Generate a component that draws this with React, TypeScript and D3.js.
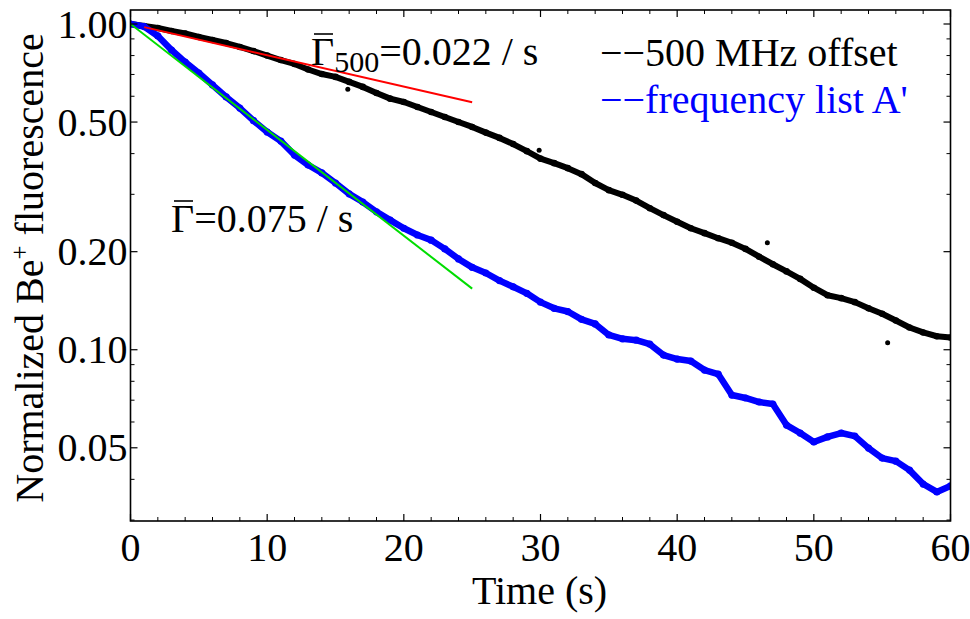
import React from "react";
import * as d3 from "d3";

// ---- data ----
const timeSeconds = [
  0, 1, 2, 3, 4, 5, 6, 7, 8, 9, 10, 11, 12, 13, 14, 15, 16, 17, 18, 19, 20,
  21, 22, 23, 24, 25, 26, 27, 28, 29, 30, 31, 32, 33, 34, 35, 36, 37, 38, 39, 40,
  41, 42, 43, 44, 45, 46, 47, 48, 49, 50, 51, 52, 53, 54, 55, 56, 57, 58, 59, 60,
];
const offset500MHz = [
  1.0, 0.986, 0.972, 0.952, 0.935, 0.912, 0.893, 0.874, 0.85, 0.826, 0.8,
  0.775, 0.754, 0.725, 0.702, 0.688, 0.664, 0.641, 0.614, 0.59, 0.576,
  0.556, 0.537, 0.518, 0.5, 0.483, 0.464, 0.447, 0.428, 0.407, 0.386,
  0.374, 0.361, 0.346, 0.325, 0.309, 0.299, 0.287, 0.272, 0.259, 0.247,
  0.236, 0.228, 0.22, 0.213, 0.204, 0.193, 0.183, 0.174, 0.165, 0.155,
  0.147, 0.144, 0.14, 0.134, 0.129, 0.123, 0.117, 0.113, 0.11, 0.109,
];
const frequencyListA = [
  1.0, 0.982, 0.919, 0.832, 0.764, 0.707, 0.65, 0.597, 0.552, 0.505, 0.466,
  0.437, 0.396, 0.369, 0.349, 0.325, 0.301, 0.284, 0.265, 0.25, 0.236,
  0.225, 0.217, 0.204, 0.19, 0.179, 0.172, 0.163, 0.156, 0.149, 0.14,
  0.134, 0.131, 0.124, 0.12, 0.111, 0.108, 0.107, 0.104, 0.0963, 0.0936,
  0.0923, 0.0866, 0.0842, 0.0726, 0.0711, 0.0691, 0.0681, 0.0587, 0.0555, 0.0521,
  0.054, 0.0555, 0.0543, 0.0499, 0.0465, 0.0455, 0.0427, 0.0387, 0.0366, 0.0382,
];
const outlierTimes = [15.9, 29.9, 46.6, 55.4];
const outlierValues = [0.631, 0.41, 0.213, 0.105];

const fit500Times = [1, 25];
const fit500Values = [0.978, 0.575];
const fitATimes = [0, 25];
const fitAValues = [1.0, 0.154];

const xMajorTicks = [0, 10, 20, 30, 40, 50, 60];
const xMinorTicks = [2, 4, 6, 8, 12, 14, 16, 18, 22, 24, 26, 28, 32, 34, 36, 38, 42, 44, 46, 48, 52, 54, 56, 58];
const yMajorTicks = [0.05, 0.1, 0.2, 0.5, 1.0];
const yMajorLabels = ["0.05", "0.10", "0.20", "0.50", "1.00"];
const yMinorTicks = [0.03, 0.04, 0.06, 0.07, 0.08, 0.09, 0.3, 0.4, 0.6, 0.7, 0.8, 0.9];

const W = 970;
const H = 619;
const left = 130.5;
const right = 950.5;
const top = 10;
const bottom = 521;
const FONT = "'Liberation Serif', 'Times New Roman', serif";
const FS = 40;

export default function App() {
  const x = d3.scaleLinear().domain([0, 60]).range([left, right]);
  const y = d3.scaleLog().domain([0.0298, 1.104]).range([bottom, top]);

  const line = d3
    .line<number>()
    .x((_, i) => x(timeSeconds[i]))
    .y((d) => y(d));

  const fitLine = (ts: number[], vs: number[]) =>
    d3
      .line<number>()
      .x((_, i) => x(ts[i]))
      .y((d) => y(d))(vs) as string;

  const majorLen = 7;
  const minorLen = 4;

  const g1x = 311; // Γ̄500 annotation start
  const g2x = 171; // Γ̄ annotation start

  return (
    <svg
      width={W}
      height={H}
      viewBox={`0 0 ${W} ${H}`}
      style={{ position: "absolute", left: 0, top: 0, background: "#fff" }}
      fontFamily={FONT}
    >
      <defs>
        <clipPath id="plotClip">
          <rect x={left} y={top} width={right - left} height={bottom - top} />
        </clipPath>
      </defs>
      <rect width={W} height={H} fill="#fff" />

      {/* data */}
      <g clipPath="url(#plotClip)">
        <path d={line(offset500MHz) as string} fill="none" stroke="#000" strokeWidth={6} strokeLinejoin="round" strokeLinecap="round" />
        {offset500MHz.map((v, i) => (
          <circle key={"b" + i} cx={x(timeSeconds[i])} cy={y(v)} r={3.3} fill="#000" />
        ))}
        {outlierValues.map((v, i) => (
          <circle key={"o" + i} cx={x(outlierTimes[i])} cy={y(v)} r={2.5} fill="#000" />
        ))}
        <path d={line(frequencyListA) as string} fill="none" stroke="#0000ff" strokeWidth={6.5} strokeLinejoin="round" strokeLinecap="round" />
        {frequencyListA.map((v, i) => (
          <circle key={"u" + i} cx={x(timeSeconds[i])} cy={y(v)} r={3.6} fill="#0000ff" />
        ))}
        <path d={fitLine(fit500Times, fit500Values)} fill="none" stroke="#ff0000" strokeWidth={2} />
        <path d={fitLine(fitATimes, fitAValues)} fill="none" stroke="#00dd00" strokeWidth={2} />
      </g>

      {/* frame */}
      <rect x={left} y={top} width={right - left} height={bottom - top} fill="none" stroke="#000" strokeWidth={1.6} />

      {/* x ticks */}
      {xMajorTicks.map((t) => (
        <g key={"xm" + t}>
          <line x1={x(t)} x2={x(t)} y1={bottom} y2={bottom - majorLen} stroke="#000" strokeWidth={1.2} />
          <line x1={x(t)} x2={x(t)} y1={top} y2={top + majorLen} stroke="#000" strokeWidth={1.2} />
          <text x={x(t)} y={561} textAnchor="middle" fontSize={FS}>
            {t}
          </text>
        </g>
      ))}
      {xMinorTicks.map((t) => (
        <g key={"xn" + t}>
          <line x1={x(t)} x2={x(t)} y1={bottom} y2={bottom - minorLen} stroke="#000" strokeWidth={1} />
          <line x1={x(t)} x2={x(t)} y1={top} y2={top + minorLen} stroke="#000" strokeWidth={1} />
        </g>
      ))}

      {/* y ticks */}
      {yMajorTicks.map((v, i) => (
        <g key={"ym" + v}>
          <line x1={left} x2={left + majorLen} y1={y(v)} y2={y(v)} stroke="#000" strokeWidth={1.2} />
          <line x1={right} x2={right - majorLen} y1={y(v)} y2={y(v)} stroke="#000" strokeWidth={1.2} />
          <text x={left - 3} y={y(v)} dy="0.34em" textAnchor="end" fontSize={FS}>
            {yMajorLabels[i]}
          </text>
        </g>
      ))}
      {yMinorTicks.map((v) => (
        <g key={"yn" + v}>
          <line x1={left} x2={left + minorLen} y1={y(v)} y2={y(v)} stroke="#000" strokeWidth={1} />
          <line x1={right} x2={right - minorLen} y1={y(v)} y2={y(v)} stroke="#000" strokeWidth={1} />
        </g>
      ))}

      {/* axis titles */}
      <text x={(left + right) / 2 - 1} y={604} textAnchor="middle" fontSize={FS}>
        Time (s)
      </text>
      <text transform={`translate(43, 268) rotate(-90)`} textAnchor="middle" fontSize={FS}>
        Normalized Be
        <tspan dy={-15} fontSize={25}>+</tspan>
        <tspan dy={15}> fluorescence</tspan>
      </text>

      {/* annotations */}
      <text x={g1x} y={65} fontSize={FS}>
        Γ
        <tspan dy={7} fontSize={30}>500</tspan>
        <tspan dy={-7}>=0.022 / s</tspan>
      </text>
      <line x1={g1x + 3} x2={g1x + 22} y1={34} y2={34} stroke="#000" strokeWidth={1.6} />
      <text x={g2x} y={232} fontSize={FS}>
        Γ=0.075 / s
      </text>
      <line x1={g2x + 3} x2={g2x + 22} y1={201} y2={201} stroke="#000" strokeWidth={1.6} />

      {/* legend */}
      <text x={600} y={66} fontSize={FS} fill="#000">
        −−500 MHz offset
      </text>
      <text x={600} y={113} fontSize={FS} fill="#0000ff">
        −−frequency list A'
      </text>
    </svg>
  );
}
